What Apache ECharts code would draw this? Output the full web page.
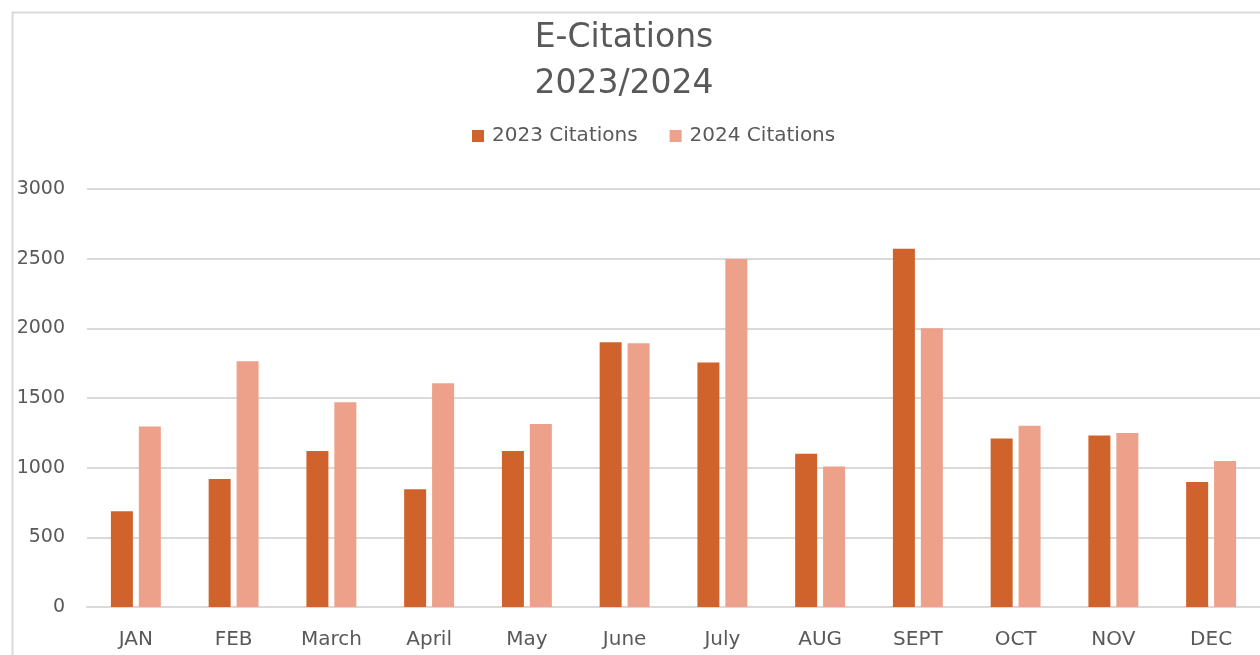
<!DOCTYPE html>
<html>
<head>
<meta charset="utf-8">
<script src="https://cdn.jsdelivr.net/npm/echarts@6/dist/echarts.min.js"></script>
<style>
  html, body { margin: 0; padding: 0; background: #fff; }
  #main { width: 1260px; height: 655px; }
</style>
</head>
<body>
<div id="main"></div>
<script>
// data
var months = ['JAN', 'FEB', 'March', 'April', 'May', 'June', 'July', 'AUG', 'SEPT', 'OCT', 'NOV', 'DEC'];
var citations2023 = [688, 918, 1120, 845, 1120, 1900, 1754, 1100, 2572, 1210, 1230, 898];
var citations2024 = [1296, 1763, 1470, 1605, 1314, 1893, 2498, 1008, 2000, 1301, 1249, 1048];

var textColor = '#595959';
var fontName = 'DejaVu Sans';

var chart = echarts.init(document.getElementById('main'));
var option = {
  backgroundColor: '#fff',
  animation: false,
  graphic: [
    // outer chart frame
    { type: 'rect', left: 10, top: 10, shape: { width: 1300, height: 700 },
      style: { fill: 'none', stroke: '#d9d9d9', lineWidth: 2 }, silent: true },
    { type: 'text', x: 624, y: 38,
      style: { text: 'E-Citations', font: '33px ' + fontName, fill: textColor, align: 'center', verticalAlign: 'middle' } },
    { type: 'text', x: 624, y: 84,
      style: { text: '2023/2024', font: '33px ' + fontName, fill: textColor, align: 'center', verticalAlign: 'middle' } }
  ],
  legend: {
    left: 467,
    top: 121,
    itemWidth: 12,
    itemHeight: 12,
    itemGap: 32,
    icon: 'rect',
    textStyle: { color: textColor, fontFamily: fontName, fontSize: 20, padding: [0, 0, 0, 3] },
    data: ['2023 Citations', '2024 Citations']
  },
  grid: { left: 87, top: 189, width: 1176, height: 418, containLabel: false },
  xAxis: {
    type: 'category',
    data: months,
    axisLine: { lineStyle: { color: '#d9d9d9', width: 2 } },
    axisTick: { show: false },
    axisLabel: { color: textColor, fontFamily: fontName, fontSize: 20, margin: 23 }
  },
  yAxis: {
    type: 'value',
    min: 0,
    max: 3000,
    interval: 500,
    axisLine: { show: false },
    axisTick: { show: false },
    splitLine: { lineStyle: { color: '#d9d9d9', width: 2 } },
    axisLabel: {
      color: textColor, fontFamily: fontName, fontSize: 19, margin: 22,
      formatter: function (v) { return String(v); }
    }
  },
  series: [
    {
      name: '2023 Citations',
      type: 'bar',
      data: citations2023,
      barWidth: 22,
      barGap: '27%',
      itemStyle: { color: '#D0632B' }
    },
    {
      name: '2024 Citations',
      type: 'bar',
      data: citations2024,
      barWidth: 22,
      itemStyle: { color: '#EDA08A' }
    }
  ]
};
chart.setOption(option);
</script>
</body>
</html>
